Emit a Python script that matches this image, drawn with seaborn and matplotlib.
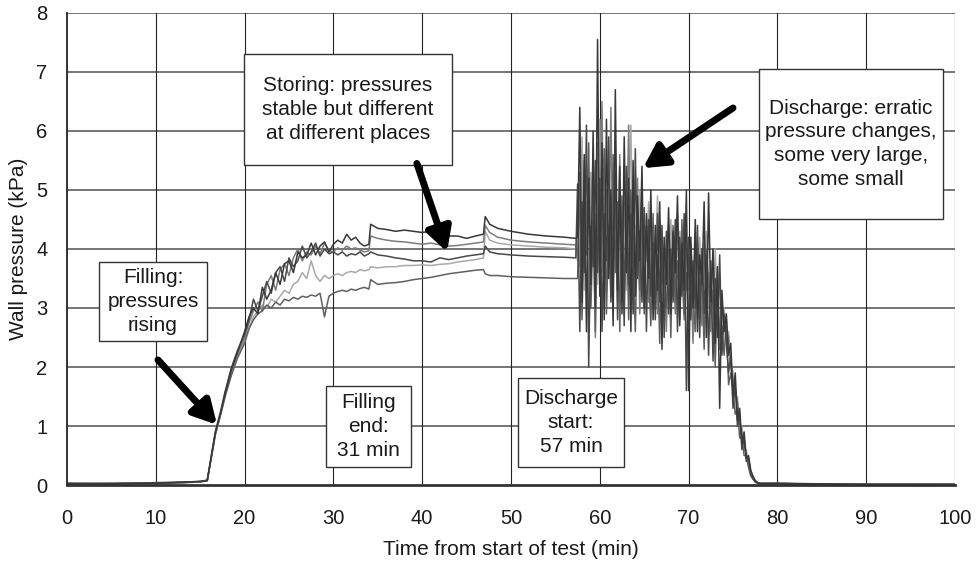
import numpy as np
import pandas as pd
import matplotlib
matplotlib.use("Agg")
import matplotlib.pyplot as plt
from matplotlib.patches import Rectangle
import seaborn as sns

# ---------------- data ----------------
t_pre = [0, 5, 10, 13, 15, 15.8, 16.7, 17.3, 17.8, 18.5, 19.2,
         20.0, 20.5, 21.0, 21.5, 22.0, 22.5, 23.0, 23.5, 24.0, 24.5,
         25.0, 25.5, 26.0, 26.5, 27.0, 27.5, 28.0, 28.5, 29.0, 29.5,
         30.0, 30.5, 31.0, 31.5, 32.0, 32.5, 33.0, 33.5, 34.0, 34.2,
         35, 36, 37, 38, 39, 40, 41, 42, 43, 44, 45, 46, 46.9, 47.1,
         47.6, 48.5, 50, 52, 54, 56, 57.3]

t_dis = [57.5, 57.75, 58.0, 58.25, 58.5, 58.75, 59.0, 59.25, 59.5, 59.75,
         60.0, 60.25, 60.5, 60.75, 61.0, 61.25, 61.5, 61.75, 62.0, 62.25,
         62.5, 62.75, 63.0, 63.25, 63.5, 63.75, 64.0, 64.25, 64.5, 64.75,
         65.0, 65.25, 65.5, 65.75, 66.0, 66.25, 66.5, 66.75, 67.0, 67.25,
         67.5, 67.75, 68.0, 68.25, 68.5, 68.75, 69.0, 69.25, 69.5, 69.75,
         70.0, 70.25, 70.5, 70.75, 71.0, 71.25, 71.5, 71.75, 72.0, 72.25,
         72.5, 72.75, 73.0, 73.25, 73.5, 73.75, 74.0, 74.25, 74.5, 74.75,
         75.0, 75.25, 75.5, 75.75, 76.0, 76.25, 76.5, 76.75, 77.0, 77.25,
         77.5, 77.75, 78.0]

t_post = [78.5, 80, 85, 90, 100]

s1_pre = [0.02, 0.03, 0.03, 0.05, 0.06, 0.08, 0.88, 1.22, 1.55, 1.95, 2.25,
          2.60, 2.85, 3.00, 2.90, 3.35, 3.15, 3.30, 3.60, 3.40, 3.75,
          3.80, 3.60, 3.95, 3.85, 3.90, 4.10, 3.90, 4.05, 4.12, 3.95,
          4.08, 4.15, 4.10, 4.25, 4.15, 4.20, 4.10, 4.05, 4.08, 4.42,
          4.35, 4.33, 4.30, 4.32, 4.30, 4.28, 4.30, 4.25, 4.22, 4.22,
          4.18, 4.22, 4.25, 4.55, 4.42, 4.35, 4.30, 4.25, 4.22, 4.20, 4.18]
s2_pre = [0.02, 0.02, 0.04, 0.04, 0.05, 0.07, 0.86, 1.20, 1.52, 1.92, 2.22,
          2.50, 2.75, 2.95, 3.10, 2.95, 3.40, 3.55, 3.30, 3.65, 3.75,
          3.55, 3.85, 4.00, 3.80, 3.95, 3.90, 4.05, 3.92, 4.10, 3.98,
          3.95, 4.02, 3.98, 4.05, 4.00, 4.02, 3.98, 3.95, 3.97, 4.22,
          4.18, 4.15, 4.13, 4.12, 4.10, 4.08, 4.10, 4.07, 4.05, 4.06,
          4.08, 4.10, 4.12, 4.40, 4.28, 4.20, 4.15, 4.12, 4.10, 4.08, 4.07]
s3_pre = [0.03, 0.02, 0.03, 0.04, 0.06, 0.08, 0.90, 1.25, 1.58, 1.98, 2.28,
          2.55, 2.80, 3.15, 2.95, 3.20, 3.45, 3.25, 3.60, 3.70, 3.45,
          3.85, 3.70, 3.80, 4.05, 3.85, 3.95, 4.10, 3.88, 4.00, 3.92,
          3.95, 3.90, 3.95, 3.88, 3.92, 3.90, 3.95, 3.88, 3.92, 3.95,
          3.90, 3.88, 3.85, 3.83, 3.80, 3.80, 3.78, 3.85, 3.82, 3.85,
          3.88, 3.90, 3.92, 4.05, 3.95, 3.92, 3.90, 3.88, 3.87, 3.86, 3.85]
s4_pre = [0.02, 0.03, 0.02, 0.04, 0.05, 0.07, 0.84, 1.18, 1.48, 1.88, 2.18,
          2.45, 2.65, 2.85, 2.95, 3.05, 3.00, 3.15, 3.10, 3.20, 3.30,
          3.25, 3.40, 3.45, 3.60, 3.50, 3.80, 3.55, 3.45, 3.55, 3.50,
          3.55, 3.58, 3.55, 3.60, 3.62, 3.60, 3.65, 3.63, 3.65, 3.70,
          3.68, 3.70, 3.70, 3.72, 3.72, 3.73, 3.72, 3.74, 3.75, 3.78,
          3.80, 3.82, 3.85, 4.30, 4.15, 4.10, 4.07, 4.05, 4.03, 4.02, 4.00]
s5_pre = [0.03, 0.02, 0.04, 0.05, 0.06, 0.08, 0.85, 1.20, 1.50, 1.85, 2.15,
          2.40, 2.65, 2.80, 2.90, 2.95, 3.05, 3.00, 3.10, 3.05, 3.15,
          3.12, 3.18, 3.15, 3.20, 3.18, 3.22, 3.20, 3.25, 2.85, 3.20,
          3.25, 3.28, 3.30, 3.28, 3.32, 3.30, 3.33, 3.35, 3.32, 3.48,
          3.40, 3.42, 3.43, 3.45, 3.48, 3.50, 3.52, 3.55, 3.58, 3.60,
          3.62, 3.64, 3.65, 3.58, 3.55, 3.55, 3.53, 3.52, 3.51, 3.50, 3.50]

s1_dis = [4.2, 6.4, 3.1, 5.6, 2.6, 5.2, 3.4, 6.0, 3.0, 7.55,
          3.2, 5.8, 2.8, 6.2, 3.5, 5.0, 2.7, 6.7, 3.3, 5.4,
          2.9, 5.9, 3.6, 5.2, 2.6, 5.5, 3.2, 4.9, 3.8, 5.4,
          3.0, 4.6, 3.5, 5.0, 2.8, 4.4, 3.3, 4.8, 2.3, 4.2,
          3.4, 4.7, 2.9, 4.3, 3.6, 4.9, 2.7, 4.1, 3.3, 5.0,
          1.6, 4.2, 3.0, 4.5, 2.6, 3.9, 3.4, 4.8, 2.5, 4.95,
          3.1, 4.0, 2.4, 3.7, 1.3, 3.3, 2.6, 2.9, 2.2, 2.4,
          1.5, 1.9, 1.1, 1.3, 0.7, 0.9, 0.45, 0.5, 0.25, 0.15,
          0.08, 0.04, 0.03]
s2_dis = [3.8, 4.9, 3.4, 5.5, 4.0, 4.6, 3.2, 5.2, 2.5, 5.8,
          4.1, 6.5, 3.0, 5.0, 3.8, 6.4, 3.4, 4.7, 3.9, 5.6,
          3.1, 4.8, 4.0, 6.1, 3.3, 4.5, 3.7, 5.2, 2.9, 4.6,
          3.9, 4.4, 3.1, 4.7, 3.6, 4.0, 2.9, 4.5, 3.4, 3.8,
          2.6, 4.4, 3.7, 3.9, 2.9, 4.6, 3.3, 3.6, 2.8, 4.2,
          3.5, 3.7, 2.4, 4.3, 3.2, 3.5, 2.7, 4.1, 3.3, 3.6,
          2.6, 4.0, 3.0, 3.2, 2.3, 3.0, 2.7, 2.6, 2.5, 2.0,
          1.8, 1.6, 1.4, 1.1, 0.9, 0.7, 0.5, 0.35, 0.2, 0.1,
          0.06, 0.04, 0.03]
s3_dis = [5.1, 2.6, 4.8, 3.6, 6.1, 2.0, 4.4, 3.7, 5.5, 3.6,
          5.2, 2.6, 4.6, 3.8, 5.9, 3.1, 4.2, 5.3, 2.8, 4.9,
          4.3, 2.7, 5.4, 3.4, 4.6, 2.9, 5.7, 3.5, 4.3, 3.1,
          4.7, 2.6, 4.5, 3.2, 4.1, 2.8, 4.6, 3.1, 4.4, 2.5,
          4.3, 2.9, 4.0, 3.1, 4.5, 2.6, 4.2, 3.2, 4.6, 1.6,
          4.2, 2.8, 3.8, 3.0, 4.4, 2.5, 4.0, 2.9, 3.9, 2.2,
          3.8, 2.1, 3.5, 2.5, 3.9, 2.2, 2.9, 2.4, 1.9, 2.2,
          1.3, 1.7, 1.0, 1.2, 0.6, 0.8, 0.4, 0.45, 0.2, 0.12,
          0.06, 0.04, 0.02]
s4_dis = [4.5, 3.7, 5.9, 3.3, 4.8, 2.9, 5.3, 3.9, 4.6, 3.4,
          6.2, 3.6, 4.9, 3.3, 5.2, 4.0, 3.6, 5.8, 3.1, 4.5,
          3.8, 5.0, 3.3, 4.6, 6.1, 3.5, 4.4, 3.7, 5.0, 3.4,
          4.5, 3.8, 4.8, 3.3, 4.3, 3.7, 4.9, 3.2, 4.1, 3.6,
          4.0, 3.2, 4.5, 3.5, 3.9, 3.0, 4.3, 3.4, 3.7, 3.9,
          3.3, 4.1, 3.4, 3.7, 2.8, 4.2, 3.1, 3.5, 4.3, 3.0,
          3.6, 2.8, 4.0, 3.0, 3.4, 2.6, 3.0, 2.5, 2.6, 2.1,
          1.9, 1.5, 1.5, 1.0, 1.0, 0.6, 0.6, 0.3, 0.25, 0.12,
          0.07, 0.05, 0.03]
s5_dis = [3.5, 5.3, 2.8, 4.7, 3.9, 5.8, 3.0, 4.5, 2.6, 5.1,
          3.4, 4.6, 5.7, 2.9, 4.4, 3.2, 5.6, 3.6, 4.8, 2.6,
          4.9, 3.2, 4.7, 2.8, 5.0, 3.8, 2.6, 4.4, 3.3, 4.8,
          2.9, 4.2, 3.6, 2.7, 4.6, 3.0, 3.9, 2.4, 4.3, 3.5,
          3.0, 4.0, 2.5, 4.4, 3.1, 3.8, 2.8, 4.5, 2.9, 3.6,
          2.7, 3.9, 3.2, 2.6, 4.1, 3.0, 3.7, 2.3, 4.0, 3.4,
          2.9, 3.3, 2.0, 3.6, 2.5, 2.7, 2.2, 2.8, 1.7, 1.9,
          1.6, 1.2, 1.3, 0.8, 0.8, 0.5, 0.5, 0.3, 0.15, 0.1,
          0.05, 0.03, 0.02]

s1_post = [0.03, 0.03, 0.02, 0.01, 0.01]
s2_post = [0.03, 0.02, 0.02, 0.01, 0.01]
s3_post = [0.02, 0.03, 0.01, 0.01, 0.01]
s4_post = [0.03, 0.02, 0.02, 0.02, 0.01]
s5_post = [0.02, 0.02, 0.01, 0.01, 0.01]

sensors = ["P1", "P2", "P3", "P4", "P5"]
colors = {"P1": "#383838", "P2": "#7c7c7c", "P3": "#484848",
          "P4": "#a9a9a9", "P5": "#606060"}
draw_order = ["P4", "P2", "P5", "P3", "P1"]

x_ticks = [0, 10, 20, 30, 40, 50, 60, 70, 80, 90, 100]
y_ticks = [0, 1, 2, 3, 4, 5, 6, 7, 8]

note_texts = ["Filling:\npressures\nrising",
              "Storing: pressures\nstable but different\nat different places",
              "Discharge: erratic\npressure changes,\nsome very large,\nsome small",
              "Filling\nend:\n31 min",
              "Discharge\nstart:\n57 min"]
# box extents (x0, x1, y0, y1) in data units
note_boxes = [(3.6, 15.77, 2.44, 3.78),
              (19.93, 43.36, 5.42, 7.31),
              (77.93, 98.65, 4.51, 7.05),
              (29.17, 38.74, 0.31, 1.68),
              (50.79, 62.73, 0.31, 1.81)]
arrows = [((10.25, 2.12), (16.9, 1.02)),
          ((39.4, 5.45), (42.8, 3.95)),
          ((75.0, 6.39), (64.86, 5.37))]

# ---------------- build table ----------------
pre = [s1_pre, s2_pre, s3_pre, s4_pre, s5_pre]
dis = [s1_dis, s2_dis, s3_dis, s4_dis, s5_dis]
post = [s1_post, s2_post, s3_post, s4_post, s5_post]
frames = []
for name, a, b, c in zip(sensors, pre, dis, post):
    frames.append(pd.DataFrame({
        "time": t_pre + t_dis + t_post,
        "pressure": a + b + c,
        "sensor": name,
    }))
df = pd.concat(frames, ignore_index=True)

# ---------------- plot ----------------
sns.set_theme(style="white")
plt.rcParams["font.family"] = ["Liberation Sans", "DejaVu Sans"]

fig = plt.figure(figsize=(9.76, 5.69), dpi=100)
ax = fig.add_axes([0.0686, 0.1476, 0.9099, 0.8296])

sns.lineplot(data=df, x="time", y="pressure", hue="sensor",
             hue_order=draw_order, palette=colors, estimator=None,
             sort=False, linewidth=1.1, legend=False, ax=ax)

ax.set_xlim(0, 100)
ax.set_ylim(0, 8)
ax.set_xticks(x_ticks)
ax.set_yticks(y_ticks)
ax.set_xticklabels([str(v) for v in x_ticks], fontsize=14.5, color="#1a1a1a")
ax.set_yticklabels([str(v) for v in y_ticks], fontsize=14.5, color="#1a1a1a")
ax.tick_params(axis="x", direction="out", length=6, width=1, color="#555555", pad=11)
ax.tick_params(axis="y", direction="out", length=6, width=1, color="#555555", pad=8)

for v in y_ticks[1:]:
    ax.axhline(v, color="#6a6a6a", lw=1.3, zorder=0)
for v in x_ticks[1:]:
    ax.axvline(v, color="#222222", lw=0.8, zorder=0)

for side in ["top", "right"]:
    ax.spines[side].set_visible(False)
ax.spines["left"].set_color("#222222")
ax.spines["left"].set_linewidth(1.3)
ax.spines["bottom"].set_color("#333333")
ax.spines["bottom"].set_linewidth(2.0)
ax.spines["bottom"].set_zorder(5)

ax.set_xlabel("Time from start of test (min)", fontsize=15, color="#1a1a1a", labelpad=9)
ax.set_ylabel("Wall pressure (kPa)", fontsize=15, color="#1a1a1a", labelpad=6)

for text, (x0, x1, y0, y1) in zip(note_texts, note_boxes):
    ax.add_patch(Rectangle((x0, y0), x1 - x0, y1 - y0, facecolor="white",
                           edgecolor="#333333", lw=1.0, zorder=6))
    ax.text((x0 + x1) / 2, (y0 + y1) / 2, text, ha="center", va="center",
            fontsize=15, color="#1a1a1a", linespacing=1.33, zorder=7)

for (x0, y0), (x1, y1) in arrows:
    ax.annotate("", xy=(x1, y1), xytext=(x0, y0), zorder=8,
                arrowprops=dict(arrowstyle="-|>,head_length=0.7,head_width=0.38",
                                mutation_scale=20, lw=5, color="black",
                                shrinkA=0, shrinkB=0))

fig.savefig("out.png", dpi=100)
